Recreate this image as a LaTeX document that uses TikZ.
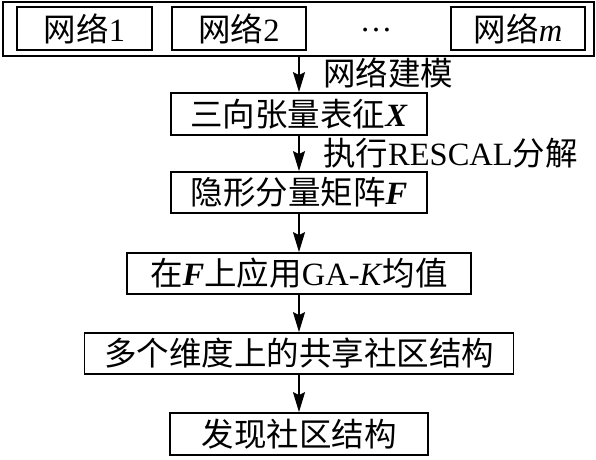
\documentclass[tikz,border=0pt]{standalone}
\usepackage{fontspec}
\setmainfont{Liberation Serif}
\newfontfamily\cjk{Noto Sans CJK SC}
\usetikzlibrary{arrows.meta}
\newcommand\zh[1]{{\cjk #1}}
\begin{document}
\begin{tikzpicture}[x=1pt,y=-1pt,
  every node/.style={font=\fontsize{32.5}{38}\selectfont, inner sep=0pt},
  bx/.style={draw, line width=1.8pt, minimum height=42pt},
  outerbox/.style={draw, line width=1.5pt, minimum width=591pt, minimum height=54pt},
  flow/.style={line width=1.8pt, -{Stealth[length=20pt,width=12pt,inset=3pt]}},
  lab/.style={anchor=west}]
\useasboundingbox (0,0) rectangle (596,459);
\node[outerbox] (outer) at (298.5,29) {};
\node[bx, minimum width=135pt, minimum height=43pt] (n1) at (84.5,28.5) {\zh{网络}1};
\node[bx, minimum width=134pt, minimum height=43pt] (n2) at (239,28.5) {\zh{网络}2};
\node (dots) at (376,30) {\dots};
\node[bx, minimum width=134pt, minimum height=43pt] (nm) at (518,28.5) {\zh{网络}\textit{m}};
\node[bx, minimum width=256pt] (X) at (299,114) {\zh{三向张量表征}\textbf{\textit{X}}};
\node[bx, minimum width=256pt, minimum height=41pt] (F) at (299,192.5) {\zh{隐形分量矩阵}\textbf{\textit{F}}};
\node[bx, minimum width=344pt, minimum height=41pt] (G) at (299,273.5) {\zh{在}\textbf{\textit{F}}\zh{上应用}GA-\textit{K}\zh{均值}};
\node[bx, minimum width=429pt, minimum height=41pt] (S) at (299,353.5) {\zh{多个维度上的共享社区结构}};
\node[bx, minimum width=258pt] (D) at (299,434) {\zh{发现社区结构}};
\draw[flow] (X.north |- outer.south) -- (X.north);
\node[lab] (l1) at (323,73) {\zh{网络建模}};
\draw[flow] (X.south) -- (F.north);
\node[lab] (l2) at (323,153) {\zh{执行}RESCAL\zh{分解}};
\draw[flow] (F.south) -- (G.north);
\draw[flow] (G.south) -- (S.north);
\draw[flow] (S.south) -- (D.north);
\end{tikzpicture}
\end{document}
